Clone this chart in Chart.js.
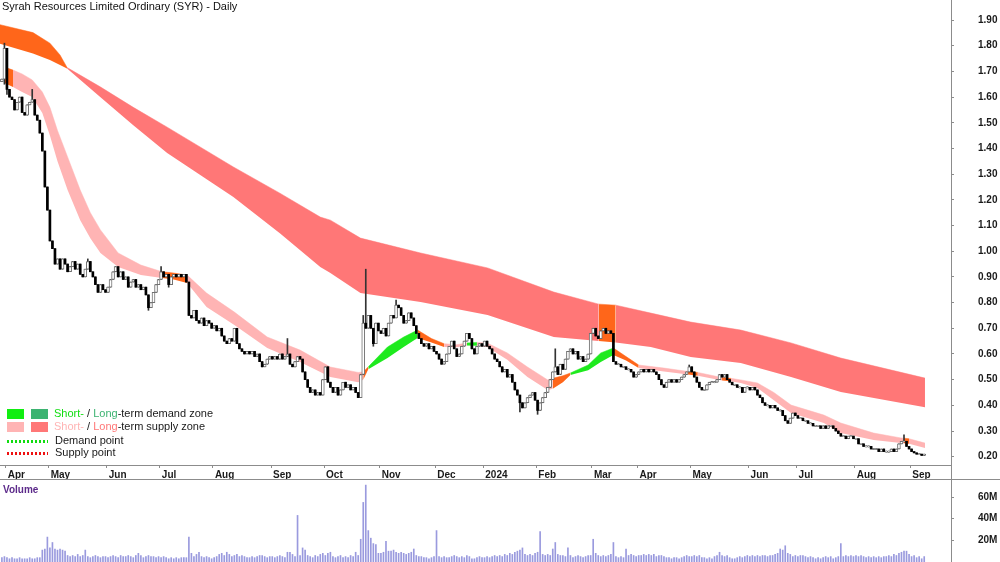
<!DOCTYPE html>
<html>
<head>
<meta charset="utf-8">
<title>Syrah Resources Limited Ordinary (SYR) - Daily</title>
<script src="https://cdn.jsdelivr.net/npm/chart.js@4.4.1/dist/chart.umd.min.js"></script>
<style>
html, body { margin: 0; padding: 0; background: #fff; }
#wrap { position: relative; width: 1000px; height: 562px; overflow: hidden; font-family: Arial, "Liberation Sans", sans-serif; }
canvas { position: absolute; left: 0; }
#priceChart { top: 0; }
#volChart { top: 480px; }
.txt { position: absolute; white-space: nowrap; font-size: 11px; line-height: 13px; color: #1a1a1a; }
.sq { position: absolute; width: 17px; height: 10px; }
.dots { position: absolute; width: 41px; height: 3px; }
</style>
</head>
<body>
<div id="wrap">
  <canvas id="priceChart" width="1000" height="480"></canvas>
  <canvas id="volChart" width="1000" height="82"></canvas>

  <div class="txt" id="title" style="left:2px; top:0px; color:#111;">Syrah Resources Limited Ordinary (SYR) - Daily</div>

  <div class="sq" style="left:7px; top:409px; background:#11ee11;"></div>
  <div class="sq" style="left:31px; top:409px; background:#3cb371;"></div>
  <div class="txt" style="left:54px; top:407px;"><span style="color:#11dd11">Short-</span> / <span style="color:#3cb371">Long</span>-term demand zone</div>

  <div class="sq" style="left:7px; top:422px; background:#ffb4b4;"></div>
  <div class="sq" style="left:31px; top:422px; background:#ff7777;"></div>
  <div class="txt" style="left:54px; top:420px;"><span style="color:#ffb4b4">Short-</span> / <span style="color:#ff7777">Long</span>-term supply zone</div>

  <div class="dots" style="left:7px; top:440px; background:repeating-linear-gradient(to right,#11dd11 0 2px,transparent 2px 4px);"></div>
  <div class="txt" style="left:55px; top:434px;">Demand point</div>

  <div class="dots" style="left:7px; top:452px; background:repeating-linear-gradient(to right,#ee1111 0 2px,transparent 2px 4px);"></div>
  <div class="txt" style="left:55px; top:446px;">Supply point</div>

  <div class="txt" style="left:3px; top:483px; font-size:10px; font-weight:bold; color:#5c2a8a;">Volume</div>
</div>

<script>
// daily closes, one array per month (index 0 = last days of March 2023)
const closeMar23 = [1.67, 1.79];
const closeApr23 = [1.63, 1.60, 1.59, 1.55, 1.58, 1.60, 1.54, 1.53, 1.57, 1.58, 1.59, 1.53, 1.51, 1.46, 1.39, 1.25, 1.16];
const closeMay23 = [1.04, 1.01, 0.95, 0.97, 0.93, 0.97, 0.95, 0.92, 0.94, 0.96, 0.93, 0.95, 0.91, 0.90, 0.93, 0.96, 0.92, 0.90, 0.87, 0.84, 0.87, 0.85, 0.84];
const closeJun23 = [0.86, 0.89, 0.92, 0.94, 0.90, 0.92, 0.89, 0.90, 0.86, 0.88, 0.89, 0.86, 0.87, 0.85, 0.86, 0.83, 0.78, 0.80, 0.84, 0.87, 0.89];
const closeJul23 = [0.92, 0.90, 0.91, 0.87, 0.90, 0.91, 0.90, 0.91, 0.90, 0.91, 0.88, 0.75, 0.74, 0.77, 0.73, 0.72, 0.74, 0.71, 0.73, 0.72, 0.70];
const closeAug23 = [0.71, 0.69, 0.70, 0.67, 0.65, 0.64, 0.66, 0.65, 0.70, 0.64, 0.62, 0.61, 0.60, 0.61, 0.60, 0.61, 0.59, 0.60, 0.57, 0.55, 0.56, 0.58, 0.59];
const closeSep23 = [0.58, 0.59, 0.58, 0.60, 0.58, 0.59, 0.60, 0.56, 0.55, 0.57, 0.59, 0.58, 0.53, 0.50, 0.47, 0.45, 0.46, 0.44, 0.45, 0.44, 0.50];
const closeOct23 = [0.55, 0.49, 0.47, 0.45, 0.47, 0.44, 0.46, 0.49, 0.47, 0.48, 0.46, 0.47, 0.45, 0.43, 0.52, 0.72, 0.70, 0.75, 0.70, 0.64, 0.72, 0.69];
const closeNov23 = [0.68, 0.70, 0.67, 0.72, 0.75, 0.74, 0.79, 0.78, 0.75, 0.72, 0.73, 0.76, 0.74, 0.71, 0.68, 0.66, 0.64, 0.63, 0.64, 0.62, 0.63, 0.61];
const closeDec23 = [0.60, 0.58, 0.56, 0.57, 0.60, 0.63, 0.65, 0.62, 0.59, 0.60, 0.63, 0.65, 0.68, 0.66, 0.62, 0.60, 0.63, 0.64, 0.63];
const closeJan24 = [0.65, 0.63, 0.62, 0.60, 0.58, 0.57, 0.55, 0.53, 0.54, 0.51, 0.52, 0.49, 0.46, 0.44, 0.41, 0.39, 0.41, 0.43, 0.44, 0.45, 0.42];
const closeFeb24 = [0.38, 0.41, 0.43, 0.45, 0.47, 0.50, 0.53, 0.55, 0.52, 0.56, 0.54, 0.58, 0.61, 0.62, 0.60, 0.61, 0.58, 0.59, 0.57, 0.58, 0.60];
const closeMar24 = [0.68, 0.70, 0.67, 0.66, 0.69, 0.70, 0.68, 0.69, 0.68, 0.57, 0.56, 0.56, 0.55, 0.55, 0.54, 0.54, 0.53, 0.51, 0.52, 0.53];
const closeApr24 = [0.54, 0.53, 0.54, 0.53, 0.54, 0.53, 0.52, 0.50, 0.48, 0.47, 0.49, 0.50, 0.49, 0.50, 0.49, 0.50, 0.51, 0.52, 0.53, 0.55];
const closeMay24 = [0.53, 0.51, 0.49, 0.47, 0.46, 0.46, 0.48, 0.49, 0.49, 0.49, 0.50, 0.52, 0.51, 0.52, 0.50, 0.49, 0.48, 0.48, 0.47, 0.47, 0.45, 0.47, 0.47];
const closeJun24 = [0.46, 0.47, 0.46, 0.44, 0.43, 0.41, 0.40, 0.40, 0.39, 0.40, 0.39, 0.38, 0.38, 0.36, 0.34, 0.33, 0.35, 0.37, 0.36];
const closeJul24 = [0.35, 0.35, 0.34, 0.34, 0.33, 0.33, 0.32, 0.32, 0.32, 0.31, 0.32, 0.31, 0.32, 0.32, 0.31, 0.30, 0.29, 0.28, 0.28, 0.27, 0.28, 0.28, 0.27];
const closeAug24 = [0.27, 0.25, 0.25, 0.24, 0.24, 0.24, 0.23, 0.23, 0.23, 0.22, 0.23, 0.22, 0.22, 0.22, 0.23, 0.22, 0.23, 0.25, 0.26, 0.26, 0.24, 0.23];
const closeSep24 = [0.22, 0.215, 0.21, 0.21, 0.205, 0.21];
const firstOpen = 1.66;

// wick extremes that stick out of the bodies: [day, price]
const wickHighs = [[1, 1.81], [12, 1.63], [34, 0.97], [63, 0.94], [113, 0.66], [143, 0.75], [144, 0.93], [156, 0.81], [219, 0.62], [272, 0.557], [357, 0.285]];
const wickLows = [[1, 1.65], [2, 1.61], [58, 0.77], [66, 0.86], [147, 0.63], [205, 0.374], [212, 0.365]];

// volume in millions, same day order
const volMar23 = [4, 5];
const volApr23 = [4, 3, 4, 3, 3, 4, 3, 3, 3, 4, 3, 3, 4, 4, 11, 12, 23];
const volMay23 = [13, 18, 12, 11, 12, 11, 10, 6, 5, 6, 5, 7, 5, 6, 11, 5, 4, 5, 6, 5, 4, 5, 5];
const volJun23 = [4, 5, 6, 5, 4, 6, 5, 5, 6, 5, 4, 6, 8, 6, 4, 5, 6, 5, 5, 4, 5];
const volJul23 = [4, 5, 4, 3, 4, 3, 4, 3, 4, 4, 4, 23, 8, 5, 7, 9, 5, 4, 5, 4, 3];
const volAug23 = [4, 5, 7, 8, 6, 9, 7, 5, 6, 7, 5, 6, 5, 4, 4, 5, 4, 5, 6, 6, 5, 4, 5];
const volSep23 = [5, 4, 5, 6, 5, 4, 9, 9, 7, 5, 43, 6, 13, 11, 6, 5, 4, 6, 5, 7, 8];
const volOct23 = [6, 8, 9, 5, 4, 5, 6, 4, 5, 4, 6, 5, 9, 6, 21, 55, 71, 29, 22, 17, 16, 8];
const volNov23 = [8, 9, 19, 10, 10, 11, 9, 8, 9, 8, 7, 8, 9, 12, 6, 5, 5, 4, 4, 3, 4, 5];
const volDec23 = [29, 5, 4, 5, 4, 4, 5, 6, 5, 4, 5, 4, 6, 5, 3, 3, 4, 5, 4];
const volJan24 = [4, 5, 4, 5, 6, 5, 6, 5, 7, 6, 8, 7, 9, 10, 11, 13, 7, 6, 7, 6, 8];
const volFeb24 = [9, 28, 7, 6, 7, 6, 12, 18, 7, 6, 6, 5, 13, 6, 4, 5, 6, 5, 4, 5, 6];
const volMar24 = [6, 21, 8, 6, 5, 6, 5, 6, 7, 18, 5, 4, 5, 4, 12, 6, 7, 6, 5, 6];
const volApr24 = [6, 7, 6, 7, 6, 7, 5, 6, 6, 5, 4, 4, 3, 4, 4, 3, 4, 5, 6, 5];
const volMay24 = [5, 6, 5, 6, 4, 4, 3, 4, 3, 5, 6, 9, 6, 5, 6, 4, 3, 3, 4, 5, 4, 5, 6];
const volJun24 = [5, 6, 5, 6, 5, 6, 6, 5, 6, 6, 7, 8, 12, 11, 15, 8, 7, 5, 6];
const volJul24 = [5, 6, 6, 5, 4, 5, 4, 3, 4, 3, 4, 5, 4, 5, 3, 4, 5, 17, 5, 6, 5, 6, 5];
const volAug24 = [6, 5, 6, 5, 4, 5, 4, 5, 4, 5, 4, 5, 5, 6, 5, 7, 6, 8, 9, 10, 10, 7];
const volSep24 = [5, 6, 4, 5, 3, 5];

// long-term zone edges: day, upper, lower
const longDay = [-0.75, 12.3, 19, 23, 25.8, 38.9, 52, 65.4, 91.6, 110, 126, 130, 141.9, 165.7, 192.2, 218.4, 236.2, 242.9, 256.8, 272.6, 292.4, 312.3, 332, 365.3];
const longTop = [1.882, 1.851, 1.81, 1.764, 1.715, 1.64, 1.56, 1.483, 1.328, 1.226, 1.133, 1.121, 1.051, 0.993, 0.935, 0.841, 0.794, 0.79, 0.759, 0.724, 0.693, 0.643, 0.584, 0.506];
const longBot = [1.808, 1.77, 1.744, 1.725, 1.711, 1.60, 1.49, 1.382, 1.211, 1.07, 0.939, 0.915, 0.837, 0.802, 0.752, 0.666, 0.65, 0.645, 0.627, 0.588, 0.565, 0.51, 0.452, 0.393];
const longZones = [[-0.75, 25.8, 'turn'], [25.8, 236.2, 'longSupply'], [236.2, 242.9, 'turn'], [242.9, 365.3, 'longSupply']];

// short-term zone edges
const shortDay = [1, 4.4, 8, 12, 16, 19, 22, 26, 31, 35, 39, 46, 55, 63.4, 68, 73.3, 81, 92, 105, 118, 130, 141, 143, 145, 152.6, 159, 164.5, 170, 175, 180, 184, 188, 192, 200, 208, 216, 218, 222, 225, 232, 237, 242, 247, 252, 262, 271.5, 275.4, 285, 288.5, 292.4, 299, 305.5, 312.3, 325.3, 332, 345, 355.8, 357, 359, 365.3];
const shortTop = [1.717, 1.705, 1.69, 1.667, 1.62, 1.56, 1.47, 1.367, 1.238, 1.15, 1.083, 0.993, 0.946, 0.92, 0.915, 0.907, 0.837, 0.763, 0.666, 0.615, 0.549, 0.528, 0.53, 0.55, 0.627, 0.666, 0.693, 0.66, 0.64, 0.636, 0.643, 0.645, 0.643, 0.604, 0.549, 0.499, 0.505, 0.515, 0.526, 0.557, 0.604, 0.623, 0.59, 0.557, 0.545, 0.532, 0.528, 0.508, 0.505, 0.499, 0.487, 0.45, 0.401, 0.362, 0.331, 0.292, 0.273, 0.272, 0.27, 0.253];
const shortBot = [1.655, 1.639, 1.62, 1.60, 1.538, 1.45, 1.35, 1.238, 1.121, 1.05, 0.993, 0.939, 0.907, 0.896, 0.89, 0.876, 0.783, 0.713, 0.623, 0.569, 0.51, 0.49, 0.50, 0.54, 0.584, 0.627, 0.662, 0.645, 0.627, 0.626, 0.633, 0.632, 0.627, 0.577, 0.51, 0.46, 0.465, 0.49, 0.518, 0.537, 0.569, 0.596, 0.575, 0.545, 0.532, 0.52, 0.515, 0.497, 0.494, 0.487, 0.467, 0.42, 0.37, 0.331, 0.292, 0.265, 0.253, 0.252, 0.25, 0.234];
const shortZones = [[1, 4.4, 'turn'], [4.4, 63.4, 'shortSupply'], [63.4, 73.3, 'turn'], [73.3, 143, 'shortSupply'], [143, 145, 'turn'], [145, 164.5, 'shortDemand'], [164.5, 175, 'turn'], [175, 184, 'shortSupply'], [184, 188, 'shortDemand'], [188, 218, 'shortSupply'], [218, 225, 'turn'], [225, 242, 'shortDemand'], [242, 252, 'turn'], [252, 271.5, 'shortSupply'], [271.5, 275.4, 'turn'], [275.4, 285, 'shortSupply'], [285, 288.5, 'turn'], [288.5, 357, 'shortSupply'], [357, 359, 'turn'], [359, 365.3, 'shortSupply']];

const monthLabels = ['Apr', 'May', 'Jun', 'Jul', 'Aug', 'Sep', 'Oct', 'Nov', 'Dec', '2024', 'Feb', 'Mar', 'Apr', 'May', 'Jun', 'Jul', 'Aug', 'Sep'];
const monthStarts = [2, 19, 42, 63, 84, 107, 128, 150, 172, 191, 212, 234, 252, 273, 296, 315, 338, 360];
const priceTicks = [0.2, 0.3, 0.4, 0.5, 0.6, 0.7, 0.8, 0.9, 1.0, 1.1, 1.2, 1.3, 1.4, 1.5, 1.6, 1.7, 1.8, 1.9];
const volTicks = [20, 40, 60];

const zoneColours = {
    turn: '#ff661a',
    longSupply: '#ff7777',
    shortSupply: '#ffb4b4',
    shortDemand: '#1eea1e',
    longDemand: '#3cb371'
};
const FONT = 'Arial, "Liberation Sans", sans-serif';
const X_MIN = -0.75;
const X_MAX = 375.6;
const AXIS_W = 49;


const closes = [].concat(closeMar23, closeApr23, closeMay23, closeJun23, closeJul23, closeAug23, closeSep23, closeOct23,
    closeNov23, closeDec23, closeJan24, closeFeb24, closeMar24, closeApr24, closeMay24, closeJun24, closeJul24, closeAug24, closeSep24);
const volumes = [].concat(volMar23, volApr23, volMay23, volJun23, volJul23, volAug23, volSep23, volOct23,
    volNov23, volDec23, volJan24, volFeb24, volMar24, volApr24, volMay24, volJun24, volJul24, volAug24, volSep24);

const highAt = Object.fromEntries(wickHighs);
const lowAt = Object.fromEntries(wickLows);

const upBodies = [];
const downBodies = [];
const wicks = [];
closes.forEach((c, i) => {
    const o = i === 0 ? firstOpen : closes[i - 1];
    let lo = Math.min(o, c);
    let hi = Math.max(o, c);
    if (hi - lo < 0.004) {
        // flat days still show as a short dash
        const mid = (hi + lo) / 2;
        lo = mid - 0.002;
        hi = mid + 0.002;
    }
    wicks.push({x: i, y: [Math.min(lo, lowAt[i] ?? lo), Math.max(hi, highAt[i] ?? hi)]});
    if (c >= o) upBodies.push({x: i, y: [lo, hi]});
    else downBodies.push({x: i, y: [lo, hi]});
});

function bandSets(days, tops, bots, zones) {
    const sets = [];
    zones.forEach(([from, to, kind]) => {
        const lower = [];
        const upper = [];
        days.forEach((d, k) => {
            if (d >= from && d <= to) {
                lower.push({x: d, y: bots[k]});
                upper.push({x: d, y: tops[k]});
            }
        });
        const colour = zoneColours[kind];
        sets.push({type: 'line', data: lower, borderWidth: 0, borderColor: 'transparent', pointRadius: 0, fill: false, order: 5});
        sets.push({type: 'line', data: upper, borderWidth: 0.5, borderColor: colour, backgroundColor: colour, pointRadius: 0, fill: '-1', order: 5});
    });
    return sets;
}

const frameLines = {
    id: 'frameLines',
    afterDraw(chart) {
        const ctx = chart.ctx;
        const r = chart.chartArea.right + 0.5;
        ctx.save();
        ctx.strokeStyle = '#8c8c8c';
        ctx.lineWidth = 1;
        ctx.beginPath();
        ctx.moveTo(r, chart.chartArea.bottom);
        ctx.lineTo(r, chart.height);
        ctx.moveTo(0, chart.height - 0.5);
        ctx.lineTo(chart.width, chart.height - 0.5);
        ctx.stroke();
        ctx.restore();
    }
};

const axisFont = {family: FONT, size: 10, weight: 'bold'};

// eslint-disable-next-line no-undef
new Chart(document.getElementById('priceChart'), {
    type: 'bar',
    data: {
        datasets: [
            ...bandSets(longDay, longTop, longBot, longZones),
            ...bandSets(shortDay, shortTop, shortBot, shortZones),
            {type: 'bar', data: wicks, backgroundColor: '#333333', barThickness: 1, grouped: false, order: 3},
            {type: 'bar', data: upBodies, backgroundColor: '#ffffff', borderColor: '#707070', borderWidth: 1,
                borderSkipped: false, barThickness: 3, grouped: false, order: 2},
            {type: 'bar', data: downBodies, backgroundColor: '#000000', barThickness: 2, grouped: false, order: 1}
        ]
    },
    options: {
        responsive: false,
        animation: false,
        events: [],
        layout: {padding: 0},
        plugins: {legend: {display: false}, tooltip: {enabled: false}},
        scales: {
            x: {
                type: 'linear', min: X_MIN, max: X_MAX, offset: false,
                afterBuildTicks: (s) => { s.ticks = monthStarts.map(v => ({value: v - 0.5})); },
                afterFit: (s) => { s.height = 15; s.paddingLeft = 0; s.paddingRight = 0; },
                grid: {drawOnChartArea: false, offset: false, tickLength: 3, color: '#8c8c8c'},
                border: {color: '#8c8c8c'},
                ticks: {
                    autoSkip: false, maxRotation: 0, minRotation: 0, align: 'start', labelOffset: 2, padding: 1,
                    color: '#1a1a1a', font: axisFont,
                    callback: (v, i) => monthLabels[i]
                }
            },
            y: {
                type: 'linear', position: 'right', min: 0.1677, max: 1.978,
                afterBuildTicks: (s) => { s.ticks = priceTicks.map(v => ({value: v})); },
                afterFit: (s) => { s.width = AXIS_W; s.paddingTop = 0; s.paddingBottom = 0; },
                grid: {drawOnChartArea: false, tickLength: 3, color: '#8c8c8c'},
                border: {color: '#8c8c8c'},
                ticks: {padding: 24, color: '#1a1a1a', font: axisFont, callback: (v) => v.toFixed(2)}
            }
        }
    },
    plugins: [frameLines]
});

// eslint-disable-next-line no-undef
new Chart(document.getElementById('volChart'), {
    type: 'bar',
    data: {
        datasets: [{
            data: volumes.map((v, i) => ({x: i, y: v})),
            backgroundColor: '#9a9ade',
            barThickness: 1
        }]
    },
    options: {
        responsive: false,
        animation: false,
        events: [],
        layout: {padding: 0},
        plugins: {legend: {display: false}, tooltip: {enabled: false}},
        scales: {
            x: {type: 'linear', min: X_MIN, max: X_MAX, offset: false, display: false},
            y: {
                type: 'linear', position: 'right', min: 0, max: 75.7,
                afterBuildTicks: (s) => { s.ticks = volTicks.map(v => ({value: v})); },
                afterFit: (s) => { s.width = AXIS_W; s.paddingTop = 0; s.paddingBottom = 0; },
                grid: {drawOnChartArea: false, tickLength: 3, color: '#8c8c8c'},
                border: {color: '#8c8c8c'},
                ticks: {padding: 24, color: '#1a1a1a', font: axisFont, callback: (v) => v + 'M'}
            }
        }
    }
});
</script>
</body>
</html>
